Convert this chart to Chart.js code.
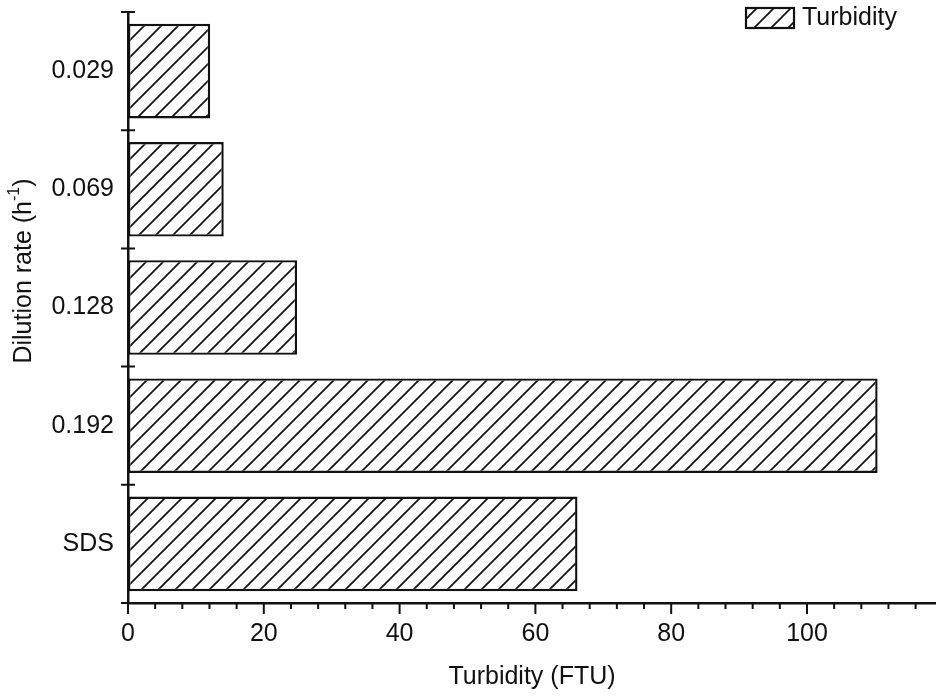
<!DOCTYPE html>
<html>
<head>
<meta charset="utf-8">
<script src="https://cdn.jsdelivr.net/npm/chart.js@4"></script>
<style>
  html, body { margin: 0; padding: 0; background: #fff; }
  #wrap { width: 936px; height: 699px; }
</style>
</head>
<body>
<div id="wrap"><canvas id="chartTurbidity"></canvas></div>
<script>
// data
const rates = ['0.029', '0.069', '0.128', '0.192', 'SDS'];
const turbidity = [12.1, 14.1, 24.9, 110.4, 66.2];
const xTicks = [0, 20, 40, 60, 80, 100];
const xMinorStep = 4;

const ink = '#111';
const font = 'Arial, "Liberation Sans", sans-serif';

let ctx = document.getElementById('chartTurbidity').getContext('2d');

// diagonal hatch like the original plot
function makeHatch(c) {
    let s = 17;
    let tile = document.createElement('canvas');
    tile.width = s;
    tile.height = s;
    let g = tile.getContext('2d');
    g.fillStyle = '#fff';
    g.fillRect(0, 0, s, s);
    g.strokeStyle = ink;
    g.lineWidth = 1.7;
    g.beginPath();
    g.moveTo(-1, s + 1); g.lineTo(s + 1, -1);
    g.moveTo(-2, 2); g.lineTo(2, -2);
    g.moveTo(s - 2, s + 2); g.lineTo(s + 2, s - 2);
    g.stroke();
    return c.createPattern(tile, 'repeat');
}
let hatch = makeHatch(ctx);

// ticks, legend and y title drawn by hand
let decorations = {
    id: 'decorations',
    afterDraw(chart) {
        let c = chart.ctx;
        let xs = chart.scales.x;
        let ys = chart.scales.y;
        let area = chart.chartArea;
        c.save();
        c.strokeStyle = ink;
        c.lineWidth = 2;
        c.beginPath();
        // category separators crossing the y axis
        for (let i = 0; i <= rates.length; i++) {
            let y = ys.getPixelForValue(i - 0.5);
            c.moveTo(area.left - 7, y);
            c.lineTo(area.left + 7, y);
        }
        // x major / minor ticks
        for (let v = 0; v <= xs.max; v += xMinorStep) {
            let x = xs.getPixelForValue(v);
            let len = v % 20 === 0 ? 11 : 6;
            c.moveTo(x, area.bottom);
            c.lineTo(x, area.bottom + len);
        }
        c.stroke();

        // legend
        let label = chart.data.datasets[0].label;
        c.fillStyle = hatch;
        c.fillRect(746, 8, 48, 20);
        c.lineWidth = 2.2;
        c.strokeRect(746, 8, 48, 20);
        c.fillStyle = ink;
        c.font = '25px ' + font;
        c.textBaseline = 'middle';
        c.textAlign = 'left';
        c.fillText(label, 802, 18);

        // y axis title with superscript
        c.translate(24, 271);
        c.rotate(-Math.PI / 2);
        let main = 'Dilution rate (h';
        let sup = '-1';
        let close = ')';
        c.font = '25px ' + font;
        let w1 = c.measureText(main).width;
        let w3 = c.measureText(close).width;
        c.font = '16px ' + font;
        let w2 = c.measureText(sup).width;
        let x0 = -(w1 + w2 + w3) / 2;
        c.font = '25px ' + font;
        c.fillText(main, x0, 0);
        c.font = '16px ' + font;
        c.fillText(sup, x0 + w1, -9);
        c.font = '25px ' + font;
        c.fillText(close, x0 + w1 + w2, 0);
        c.restore();
    }
};

let chartTurbidity = new Chart(ctx, {
    type: 'bar',
    data: {
        labels: rates,
        datasets: [{
            label: 'Turbidity',
            data: turbidity,
            backgroundColor: hatch,
            borderColor: ink,
            borderWidth: 2.4,
            borderSkipped: false,
            barPercentage: 0.8,
            categoryPercentage: 1
        }]
    },
    options: {
        indexAxis: 'y',
        responsive: true,
        maintainAspectRatio: false,
        animation: false,
        layout: { padding: { top: 12, right: 0, bottom: 0, left: 0 } },
        plugins: {
            legend: { display: false },
            tooltip: { enabled: false }
        },
        scales: {
            x: {
                min: 0,
                max: 119,
                afterBuildTicks: (scale) => {
                    scale.ticks = xTicks.map(v => ({ value: v }));
                },
                afterFit: (scale) => { scale.height = 96; },
                grid: { display: false },
                border: { display: true, color: ink, width: 2.5 },
                ticks: {
                    padding: 8,
                    color: ink,
                    font: { family: font, size: 25 },
                    maxRotation: 0
                },
                title: {
                    display: true,
                    text: 'Turbidity (FTU)',
                    color: ink,
                    font: { family: font, size: 25 },
                    padding: { top: 21, bottom: 7 }
                }
            },
            y: {
                afterFit: (scale) => {
                    scale.width = 128;
                    scale.paddingTop = 0;
                    scale.paddingBottom = 0;
                },
                grid: { display: false, offset: true },
                border: { display: true, color: ink, width: 2.5 },
                ticks: {
                    padding: 6,
                    color: ink,
                    font: { family: font, size: 25 }
                }
            }
        }
    },
    plugins: [decorations]
});
</script>
</body>
</html>
